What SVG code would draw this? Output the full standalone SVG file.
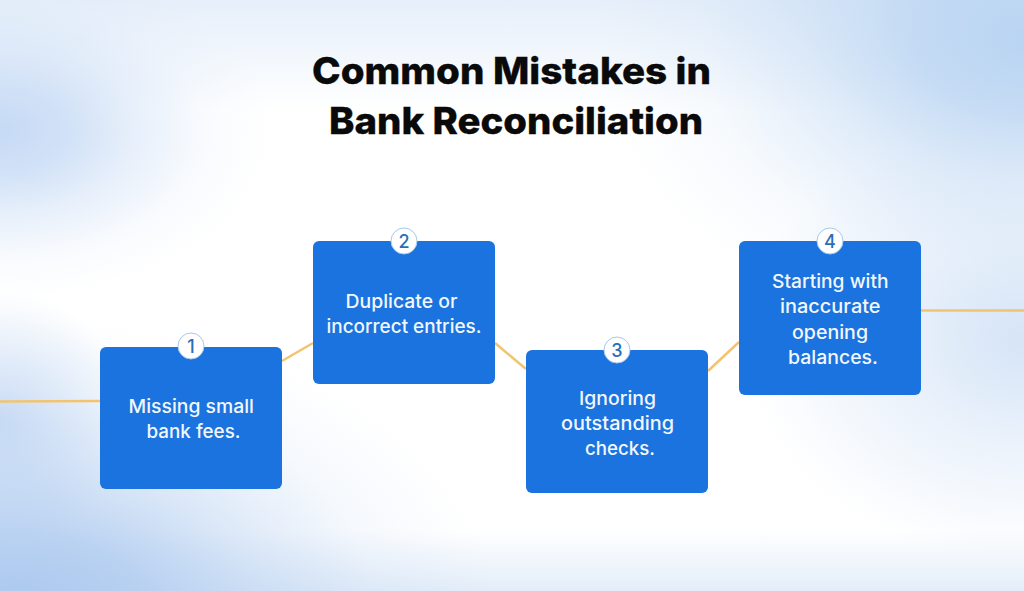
<svg xmlns="http://www.w3.org/2000/svg" width="1024" height="591" viewBox="0 0 1024 591">
<style>
.box{fill:#1a73de}
.line{stroke:#f2c46f;stroke-width:2.5;fill:none}
.badge{fill:#fff;stroke:#a9c8ea;stroke-width:1}
.num{font-family:"Inter","Liberation Sans",sans-serif;font-size:18px;font-weight:500;fill:#2a6dbb;text-anchor:middle}
.label{font-family:"Inter","Liberation Sans",sans-serif;font-size:18.5px;font-weight:500;fill:#f2f7fd}
.title{font-family:"Inter","Liberation Sans",sans-serif;font-size:37px;font-weight:800;fill:#0a0a0a;stroke:#0a0a0a;stroke-width:.3}
</style>
<defs>
<linearGradient id="gTop" x1="0" y1="0" x2="0" y2="1"><stop offset="0" stop-color="#e6effa"/><stop offset="1" stop-color="#e6effa" stop-opacity="0"/></linearGradient>
<linearGradient id="gBot" x1="0" y1="1" x2="0" y2="0"><stop offset="0" stop-color="#e3edf9"/><stop offset="1" stop-color="#e3edf9" stop-opacity="0"/></linearGradient>
<radialGradient id="gTR" gradientUnits="userSpaceOnUse" cx="0" cy="0" r="1" gradientTransform="translate(1024 40) scale(430 300)"><stop offset="0" stop-color="#b9d4f2"/><stop offset=".25" stop-color="#b9d4f2" stop-opacity=".8"/><stop offset=".5" stop-color="#b9d4f2" stop-opacity=".42"/><stop offset=".75" stop-color="#b9d4f2" stop-opacity=".12"/><stop offset="1" stop-color="#b9d4f2" stop-opacity="0"/></radialGradient>
<radialGradient id="gTL" gradientUnits="userSpaceOnUse" cx="0" cy="0" r="1" gradientTransform="translate(0 130) scale(270 170)"><stop offset="0" stop-color="#c6daf5"/><stop offset=".25" stop-color="#c6daf5" stop-opacity=".8"/><stop offset=".5" stop-color="#c6daf5" stop-opacity=".42"/><stop offset=".75" stop-color="#c6daf5" stop-opacity=".12"/><stop offset="1" stop-color="#c6daf5" stop-opacity="0"/></radialGradient>
<radialGradient id="gBL" gradientUnits="userSpaceOnUse" cx="0" cy="0" r="1" gradientTransform="translate(20 600) scale(470 280)"><stop offset="0" stop-color="#acc9ef"/><stop offset=".25" stop-color="#acc9ef" stop-opacity=".8"/><stop offset=".5" stop-color="#acc9ef" stop-opacity=".42"/><stop offset=".75" stop-color="#acc9ef" stop-opacity=".12"/><stop offset="1" stop-color="#acc9ef" stop-opacity="0"/></radialGradient>
<radialGradient id="gL" gradientUnits="userSpaceOnUse" cx="0" cy="0" r="1" gradientTransform="translate(0 420) scale(130 130)"><stop offset="0" stop-color="#cfe0f6"/><stop offset="1" stop-color="#cfe0f6" stop-opacity="0"/></radialGradient>
<radialGradient id="gR" gradientUnits="userSpaceOnUse" cx="0" cy="0" r="1" gradientTransform="translate(1024 340) scale(280 220)"><stop offset="0" stop-color="#d5e4f7"/><stop offset=".5" stop-color="#d5e4f7" stop-opacity=".45"/><stop offset="1" stop-color="#d5e4f7" stop-opacity="0"/></radialGradient>
</defs>
<rect width="1024" height="591" fill="#fff"/>
<rect width="1024" height="110" fill="url(#gTop)"/>
<rect y="530" width="1024" height="61" fill="url(#gBot)"/>
<rect width="1024" height="591" fill="url(#gTR)"/>
<rect width="1024" height="591" fill="url(#gTL)"/>
<rect width="1024" height="591" fill="url(#gL)"/>
<rect width="1024" height="591" fill="url(#gBL)"/>
<rect width="1024" height="591" fill="url(#gR)"/>
<g id="connectors">
<line class="line" x1="0" y1="401.500" x2="100" y2="401"/>
<line class="line" x1="282" y1="361" x2="313" y2="343"/>
<line class="line" x1="495" y1="343" x2="526" y2="369"/>
<line class="line" x1="708" y1="371" x2="739" y2="342"/>
<line class="line" x1="921" y1="310.500" x2="1024" y2="310.500"/>
</g>
<g id="title">
<text class="title" x="312" y="84" textLength="399" lengthAdjust="spacingAndGlyphs">Common Mistakes in</text>
<text class="title" x="329" y="134" textLength="374" lengthAdjust="spacingAndGlyphs">Bank Reconciliation</text>
</g>
<g id="node1">
<rect class="box" x="100" y="347" width="182" height="142" rx="6"/>
<circle class="badge" cx="191" cy="346" r="13"/>
<text class="num" x="191" y="352.500">1</text>
<text class="label" x="128.500" y="412.500" textLength="125.500" lengthAdjust="spacingAndGlyphs">Missing small</text>
<text class="label" x="146.500" y="437.500" textLength="94" lengthAdjust="spacingAndGlyphs">bank fees.</text>
</g>
<g id="node2">
<rect class="box" x="313" y="241" width="182" height="143" rx="6"/>
<circle class="badge" cx="404" cy="241" r="13"/>
<text class="num" x="404" y="247.500">2</text>
<text class="label" x="345.500" y="307.500" textLength="112" lengthAdjust="spacingAndGlyphs">Duplicate or</text>
<text class="label" x="326.500" y="332.500" textLength="155" lengthAdjust="spacingAndGlyphs">incorrect entries.</text>
</g>
<g id="node3">
<rect class="box" x="526" y="350" width="182" height="143" rx="6"/>
<circle class="badge" cx="617" cy="350" r="13"/>
<text class="num" x="617" y="356.500">3</text>
<text class="label" x="579" y="404.500" textLength="77" lengthAdjust="spacingAndGlyphs">Ignoring</text>
<text class="label" x="561" y="429.500" textLength="113" lengthAdjust="spacingAndGlyphs">outstanding</text>
<text class="label" x="585" y="454.500" textLength="70" lengthAdjust="spacingAndGlyphs">checks.</text>
</g>
<g id="node4">
<rect class="box" x="739" y="241" width="182" height="154" rx="6"/>
<circle class="badge" cx="830" cy="241" r="13"/>
<text class="num" x="830" y="247.500">4</text>
<text class="label" x="772" y="287.500" textLength="116.500" lengthAdjust="spacingAndGlyphs">Starting with</text>
<text class="label" x="780" y="312.500" textLength="100.500" lengthAdjust="spacingAndGlyphs">inaccurate</text>
<text class="label" x="792" y="338.500" textLength="76" lengthAdjust="spacingAndGlyphs">opening</text>
<text class="label" x="788" y="363.500" textLength="90" lengthAdjust="spacingAndGlyphs">balances.</text>
</g>
</svg>
